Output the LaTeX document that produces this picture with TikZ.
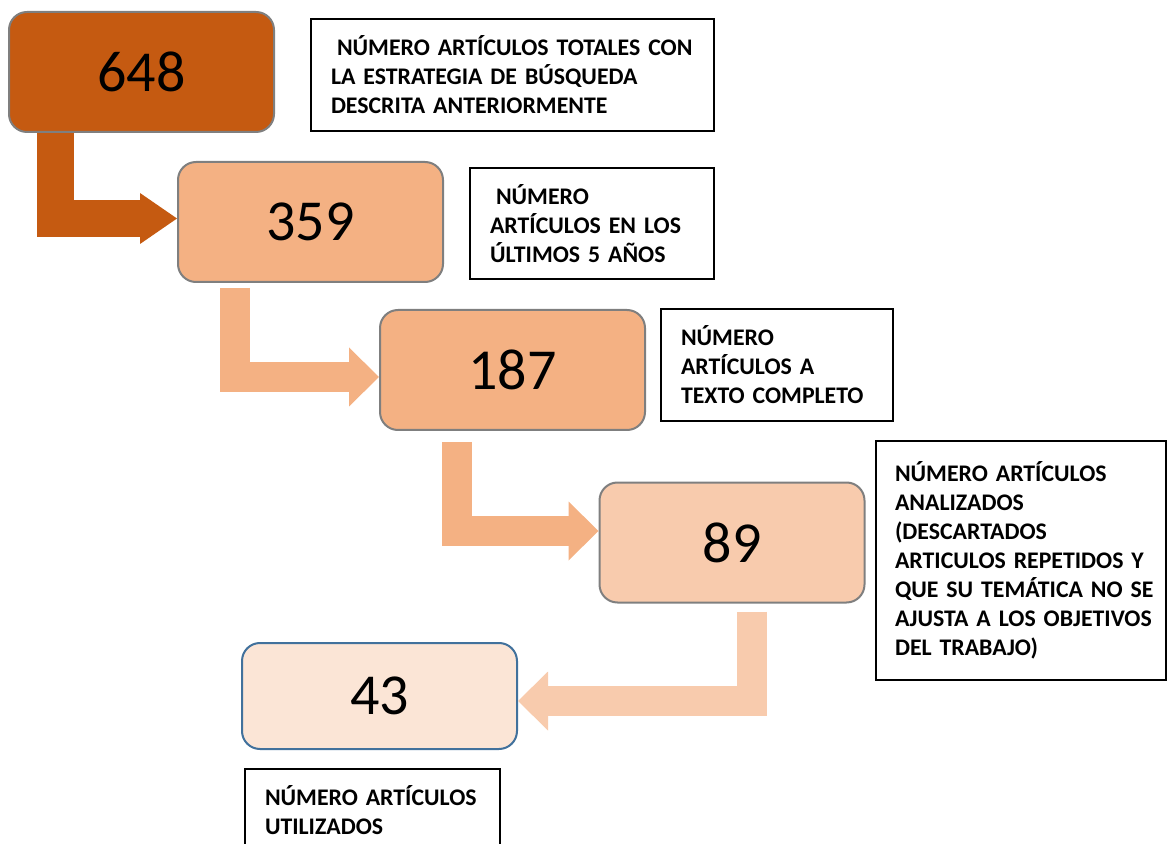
\documentclass[tikz,border=0pt]{standalone}
\usepackage{fontspec}
\setmainfont{Carlito}
\usepackage{tikz}
\usetikzlibrary{arrows.meta}
\definecolor{darkorange}{HTML}{C55A11}
\definecolor{midorange}{HTML}{F4B183}
\definecolor{lightorange}{HTML}{F8CBAD}
\definecolor{paleorange}{HTML}{FBE5D6}
\definecolor{boxgray}{HTML}{7F7F7F}
\definecolor{boxblue}{HTML}{41719C}
\tikzstyle{numbox} = [rectangle, rounded corners=9pt, minimum width=132.5pt, minimum height=60pt, text centered, draw=boxgray, line width=1pt, font=\fontsize{29}{30}\selectfont]
\tikzstyle{notebox} = [rectangle, draw=black, line width=1pt, inner xsep=10pt, align=left, font=\fontsize{11.9}{14.5}\selectfont\bfseries]
\tikzstyle{flowarrow} = [line width=15pt, line join=miter, -{Triangle[length=15pt, width=29.5pt, line width=0pt]}]

\begin{document}
\begin{tikzpicture}[x=0.5pt, y=-0.5pt]
\useasboundingbox (0,0) rectangle (1167,844);

\node (n648) [numbox, fill=darkorange] at (141.5,72) {648};
\node (n359) [numbox, fill=midorange] at (310.5,222) {359};
\node (n187) [numbox, fill=midorange] at (512.5,370) {187};
\node (n89) [numbox, fill=lightorange] at (732,542.5) {89};
\node (n43) [numbox, fill=paleorange, draw=boxblue, minimum width=137.5pt, minimum height=53pt] at (379.5,696) {43};

\node (t648) [notebox, text width=181.5pt, minimum height=56pt] at (512.5,75) {\hspace*{3pt}\mbox{NÚMERO ARTÍCULOS TOTALES CON}\\LA ESTRATEGIA DE BÚSQUEDA\\DESCRITA ANTERIORMENTE};
\node (t359) [notebox, text width=102pt, minimum height=55.5pt] at (592,223.5) {\hspace*{3pt}NÚMERO\\\mbox{ARTÍCULOS EN LOS}\\ÚLTIMOS 5 AÑOS};
\node (t187) [notebox, text width=96pt, minimum height=56pt] at (777,365) {NÚMERO\\ARTÍCULOS A\\\mbox{TEXTO COMPLETO}};
\node (t89) [notebox, inner xsep=9.5pt, text width=126pt, minimum height=119.5pt] at (1021,560.5) {NÚMERO ARTÍCULOS\\ANALIZADOS\\(DESCARTADOS\\\mbox{ARTICULOS REPETIDOS Y}\\\mbox{QUE SU TEMÁTICA NO SE}\\\mbox{AJUSTA A LOS OBJETIVOS}\\DEL TRABAJO)};
\node (t43) [notebox, text width=107.5pt, minimum height=41pt, anchor=north west] at (244,768) {NÚMERO ARTÍCULOS\\UTILIZADOS};

\draw [flowarrow, darkorange, line width=18.5pt, -{Triangle[length=18.5pt, width=25.5pt, line width=0pt]}] ([xshift=23.75pt]n648.south west) |- ([yshift=1.75pt]n359.west);
\draw [flowarrow, midorange] ([xshift=29pt, yshift=-2.5pt]n359.south west) |- ([yshift=-3.5pt]n187.west);
\draw [flowarrow, midorange] ([xshift=39pt, yshift=-5.5pt]n187.south west) |- ([yshift=5.75pt]n89.west);
\draw [flowarrow, lightorange] ([xshift=76.75pt, yshift=-4pt]n89.south west) |- ([yshift=-2.5pt]n43.east);
\end{tikzpicture}
\end{document}
